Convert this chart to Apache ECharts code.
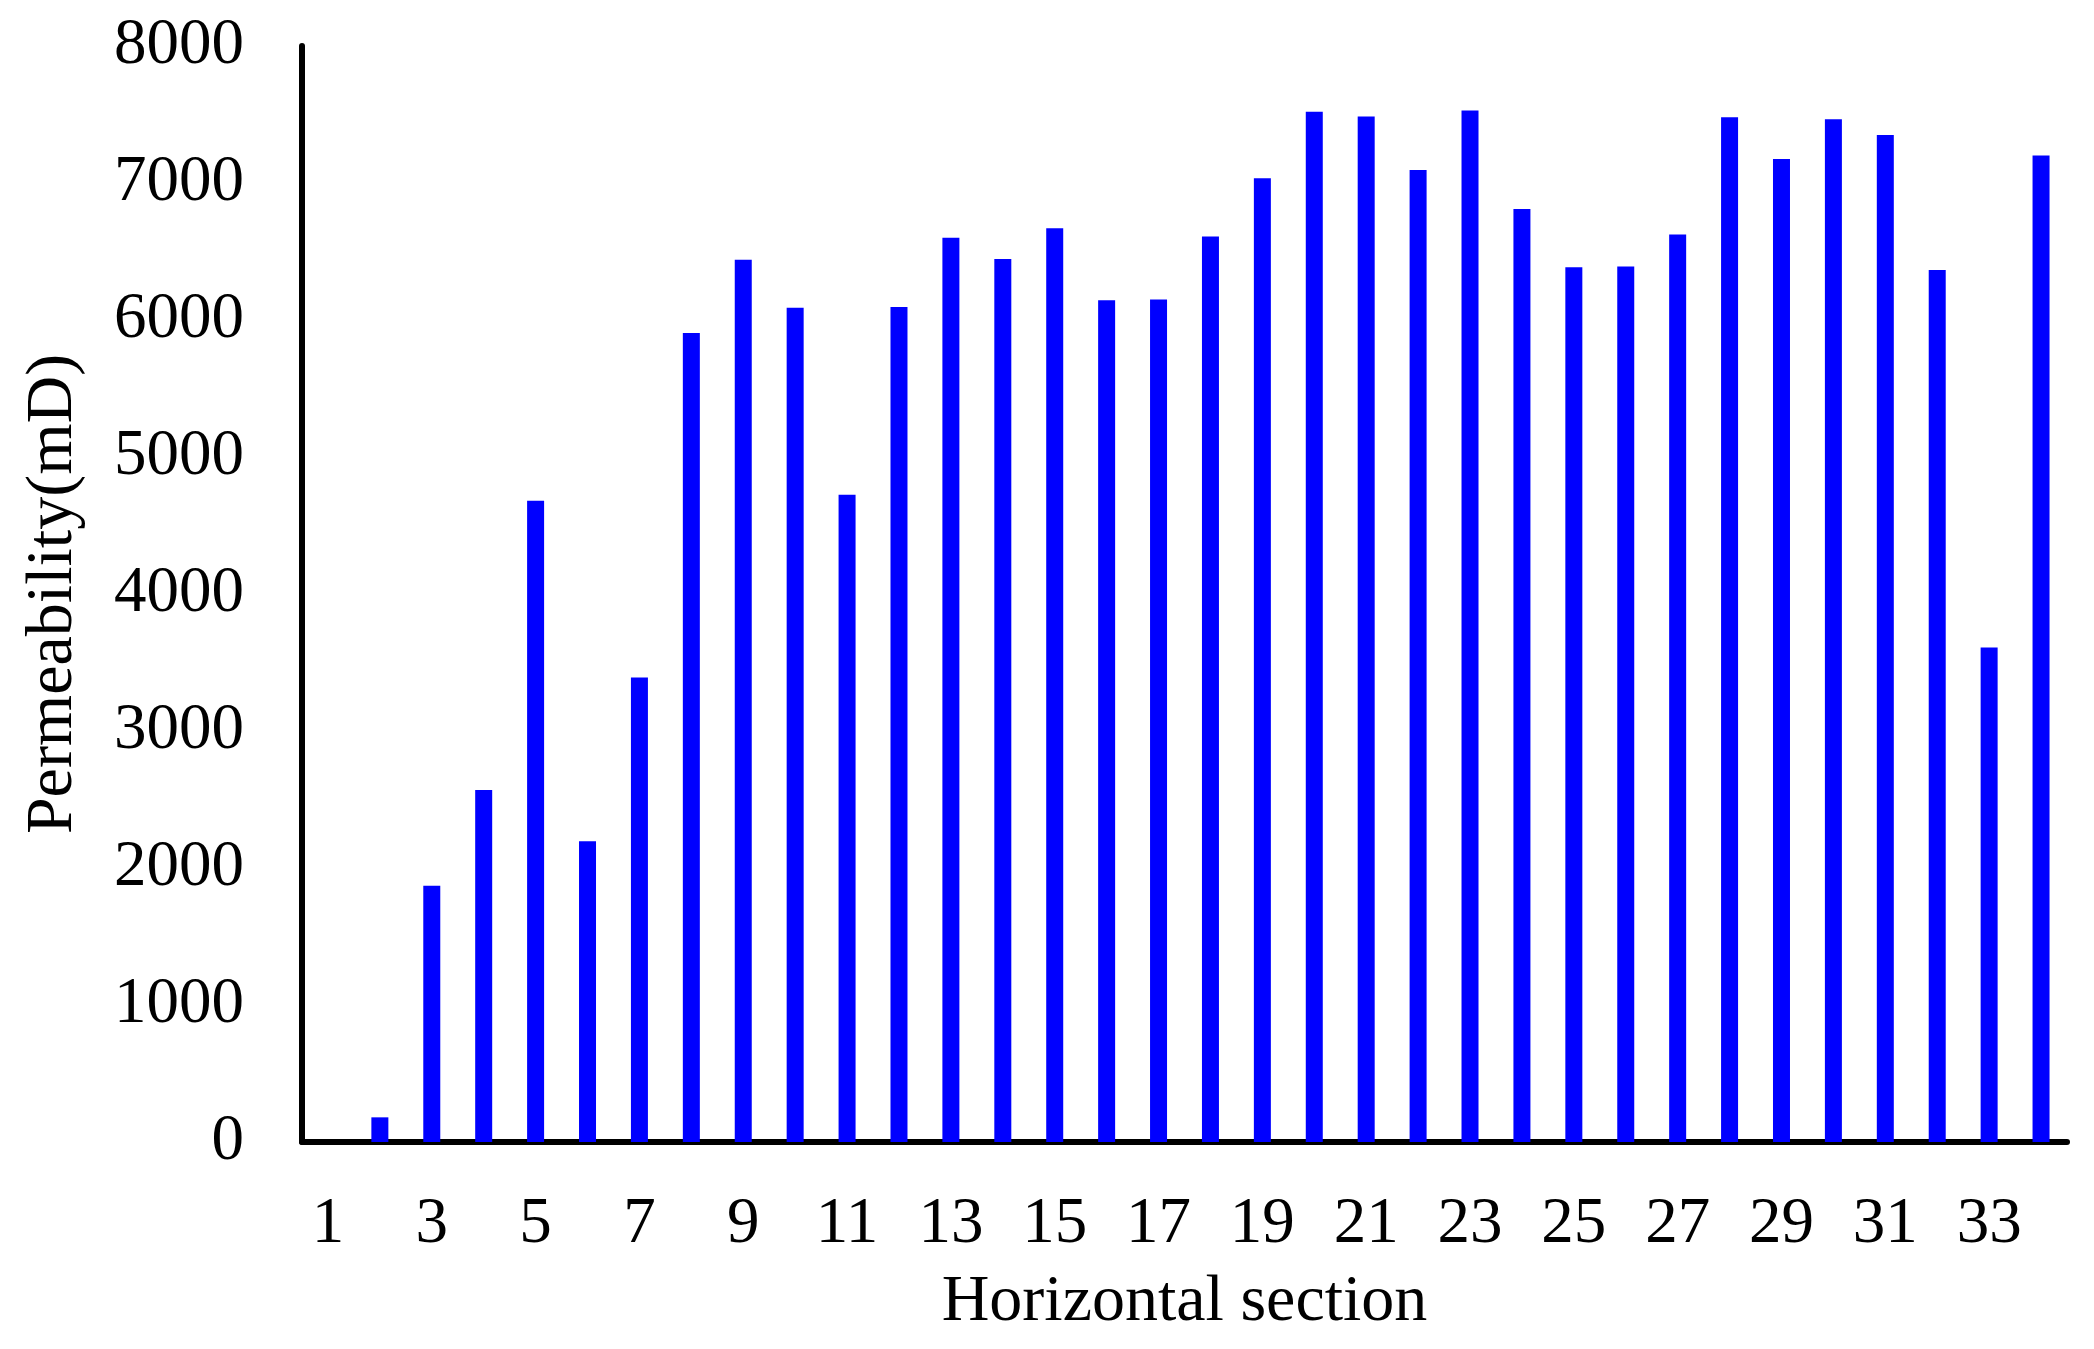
<!DOCTYPE html>
<html>
<head>
<meta charset="utf-8">
<title>Permeability</title>
<script src="https://cdn.jsdelivr.net/npm/echarts@6/dist/echarts.min.js"></script>
<style>
  html, body { margin: 0; padding: 0; background: #fff; }
  #chart { width: 2094px; height: 1349px; }
</style>
</head>
<body>
<div id="chart"></div>
<script>
// horizontal sections 1..34
const sections = ["1", "2", "3", "4", "5", "6", "7", "8", "9", "10", "11", "12", "13", "14", "15", "16", "17",
  "18", "19", "20", "21", "22", "23", "24", "25", "26", "27", "28", "29", "30", "31", "32", "33", "34"];
// permeability (mD)
const permeability = [0, 180, 1870, 2570, 4680, 2195, 3390, 5905, 6440, 6090, 4725, 6095, 6600, 6445, 6670, 6145,
  6150, 6610, 7035, 7520, 7485, 7095, 7530, 6810, 6385, 6390, 6625, 7480, 7175, 7465, 7350, 6365, 3610, 7200];
const yTicks = { min: 0, max: 8000, step: 1000 };

const font = "'Liberation Serif', 'Times New Roman', serif";
const chart = echarts.init(document.getElementById("chart"));

let option = {
  animation: false,
  backgroundColor: "#fff",
  grid: {
    left: 302,
    right: 27,
    top: 46,
    bottom: 207,
    containLabel: false,
  },
  xAxis: {
    type: "category",
    data: sections,
    name: "Horizontal section",
    nameLocation: "middle",
    nameGap: 128,
    nameTextStyle: { fontFamily: font, fontSize: 66, color: "#000" },
    axisLine: { lineStyle: { color: "#000", width: 6 } },
    axisTick: { show: false },
    axisLabel: {
      interval: 1, // every other section
      margin: 50,
      fontFamily: font,
      fontSize: 65,
      color: "#000",
    },
    splitLine: { show: false },
  },
  yAxis: {
    type: "value",
    min: yTicks.min,
    max: yTicks.max,
    interval: yTicks.step,
    name: "Permeability(mD)",
    nameLocation: "middle",
    nameGap: 215,
    nameRotate: 90,
    nameTextStyle: { fontFamily: font, fontSize: 66, color: "#000" },
    axisLine: { show: true, lineStyle: { color: "#000", width: 6 } },
    axisTick: { show: false },
    axisLabel: {
      margin: 58,
      padding: [8, 0, 0, 0], // labels sit a touch below the tick
      fontFamily: font,
      fontSize: 65,
      color: "#000",
      formatter: (v) => String(v), // no thousands separator
    },
    splitLine: { show: false },
  },
  series: [
    {
      type: "bar",
      data: permeability,
      barWidth: 17,
      itemStyle: { color: "#0000ff" },
    },
  ],
};
chart.setOption(option);
</script>
</body>
</html>
